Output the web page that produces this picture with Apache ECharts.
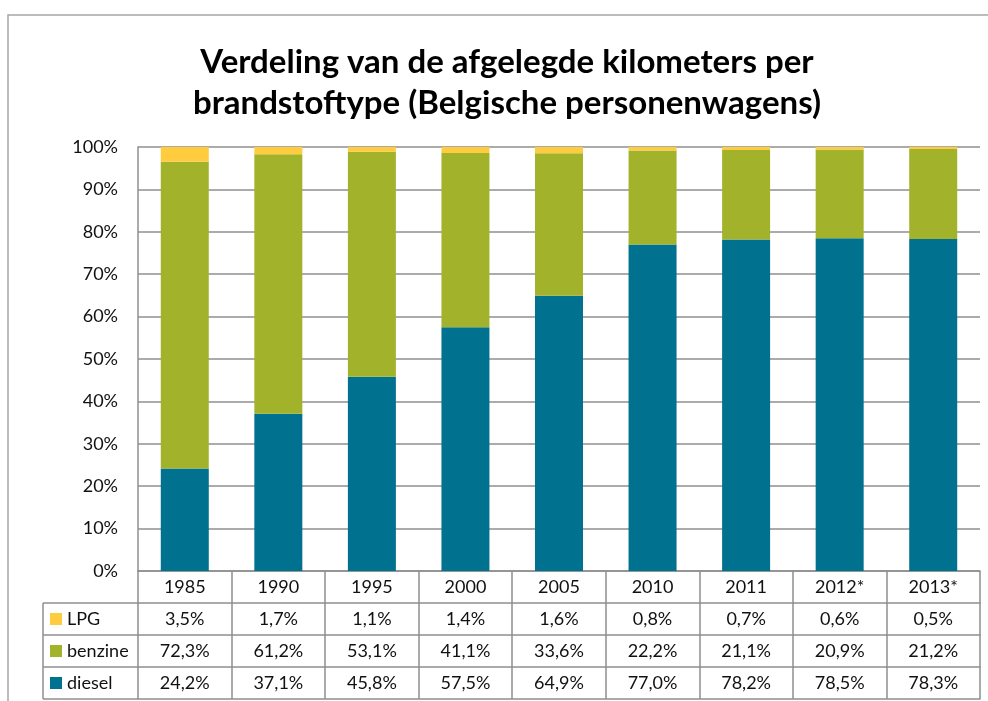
<!DOCTYPE html>
<html>
<head>
<meta charset="utf-8">
<script src="https://cdn.jsdelivr.net/npm/echarts@6/dist/echarts.min.js"></script>
<style>
  html, body { margin: 0; padding: 0; background: #fff; }
  #chart { width: 988px; height: 701px; }
</style>
</head>
<body>
<div id="chart"></div>
<script>
// jaren (categorieen)
var years = ['1985', '1990', '1995', '2000', '2005', '2010', '2011', '2012*', '2013*'];
// aandelen in %
var lpg = [3.5, 1.7, 1.1, 1.4, 1.6, 0.8, 0.7, 0.6, 0.5];
var benzine = [72.3, 61.2, 53.1, 41.1, 33.6, 22.2, 21.1, 20.9, 21.2];
var diesel = [24.2, 37.1, 45.8, 57.5, 64.9, 77.0, 78.2, 78.5, 78.3];

var chart = echarts.init(document.getElementById('chart'));

var lineGray = '#8f8f8f';
var font = 'Lato';
var fs = 18;

function pct(v) {
  return v.toFixed(1).replace('.', ',') + '%';
}

// one x axis per table row, stacked with offset
function tableAxis(offset, values) {
  return {
    type: 'category',
    data: years,
    position: 'bottom',
    offset: offset,
    axisLine: { show: true, lineStyle: { color: lineGray, width: 1.5 } },
    axisTick: { show: false },
    axisLabel: {
      show: !!values,
      margin: 7,
      fontSize: fs,
      fontFamily: font,
      color: '#111',
      formatter: function (v, i) { return values ? pct(values[i]) : ''; }
    }
  };
}

function legendRow(name, top) {
  return {
    data: [name],
    left: 50,
    top: top,
    padding: 0,
    icon: 'rect',
    itemWidth: 12,
    itemHeight: 12,
    itemGap: 5,
    textStyle: { fontSize: fs, fontFamily: font, color: '#111', lineHeight: 20 }
  };
}

var option = {
  backgroundColor: '#fff',
  animation: false,
  title: {
    text: 'Verdeling van de afgelegde kilometers per\nbrandstoftype (Belgische personenwagens)',
    left: 502,
    top: 37,
    textAlign: 'center',
    textStyle: {
      fontFamily: font,
      fontWeight: 'bold',
      fontSize: 33,
      lineHeight: 41,
      color: '#000'
    }
  },
  legend: [
    legendRow('LPG', 609),
    legendRow('benzine', 641),
    legendRow('diesel', 673)
  ],
  grid: { left: 138, right: 8, top: 147, bottom: 130 },
  xAxis: [
    {
      type: 'category',
      data: years,
      position: 'bottom',
      axisLine: { show: true, lineStyle: { color: lineGray, width: 1.5 } },
      axisTick: { show: true, length: 128, lineStyle: { color: lineGray, width: 1.5 } },
      axisLabel: { margin: 7, fontSize: fs, fontFamily: font, color: '#111' }
    },
    tableAxis(32, lpg),
    tableAxis(64, benzine),
    tableAxis(96, diesel),
    tableAxis(128, null)
  ],
  yAxis: {
    type: 'value',
    min: 0,
    max: 100,
    interval: 10,
    axisLine: { show: true, lineStyle: { color: lineGray, width: 1.5 } },
    axisTick: { show: false },
    splitLine: { lineStyle: { color: lineGray, width: 1.5 } },
    axisLabel: {
      margin: 20,
      fontSize: fs,
      fontFamily: font,
      color: '#111',
      formatter: '{value}%'
    }
  },
  series: [
    { name: 'diesel', type: 'bar', stack: 'tot', data: diesel, barWidth: 48, itemStyle: { color: '#00718f' } },
    { name: 'benzine', type: 'bar', stack: 'tot', data: benzine, barWidth: 48, itemStyle: { color: '#a2b32b' } },
    { name: 'LPG', type: 'bar', stack: 'tot', data: lpg, barWidth: 48, itemStyle: { color: '#ffcc3f' } }
  ],
  graphic: [
    // kader rond de grafiek
    { type: 'rect', shape: { x: 8, y: 15, width: 1000, height: 800 }, style: { fill: null, stroke: '#a6a6a6', lineWidth: 1.5 }, silent: true },
    // lijnen van de rijkoppen
    { type: 'line', shape: { x1: 43, y1: 603, x2: 138, y2: 603 }, style: { stroke: lineGray, lineWidth: 1.5 } },
    { type: 'line', shape: { x1: 43, y1: 635, x2: 138, y2: 635 }, style: { stroke: lineGray, lineWidth: 1.5 } },
    { type: 'line', shape: { x1: 43, y1: 667, x2: 138, y2: 667 }, style: { stroke: lineGray, lineWidth: 1.5 } },
    { type: 'line', shape: { x1: 43, y1: 699, x2: 138, y2: 699 }, style: { stroke: lineGray, lineWidth: 1.5 } },
    { type: 'line', shape: { x1: 43, y1: 603, x2: 43, y2: 699 }, style: { stroke: lineGray, lineWidth: 1.5 } }
  ]
};

chart.setOption(option);
</script>
</body>
</html>
